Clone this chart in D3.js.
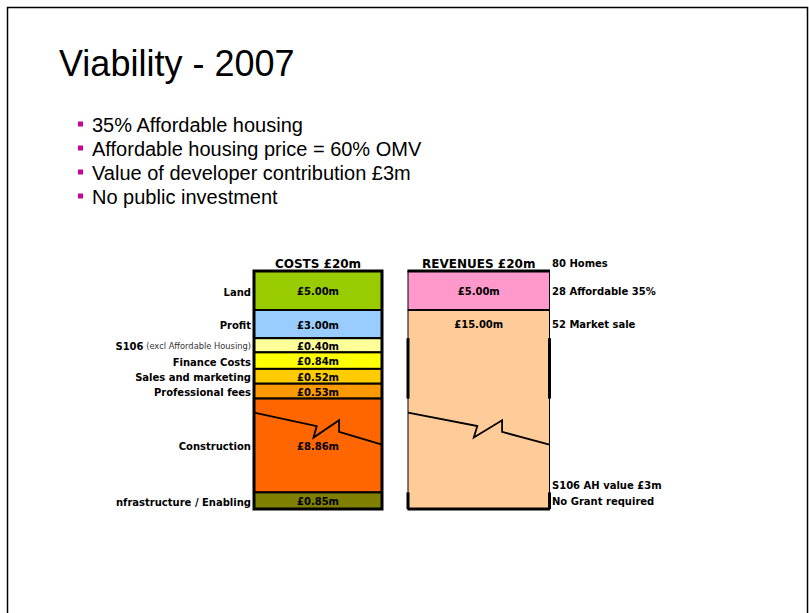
<!DOCTYPE html>
<html>
<head>
<meta charset="utf-8">
<script src="https://cdnjs.cloudflare.com/ajax/libs/d3/7.8.5/d3.min.js"></script>
<style>
    body { margin: 0; background: #fff; }
    svg { display: block; }
</style>
</head>
<body>
<div id="slide"></div>
<script>
const titleText = 'Viability - 2007';
const bullets = [
    '35% Affordable housing',
    'Affordable housing price = 60% OMV',
    'Value of developer contribution £3m',
    'No public investment'
];

const costLabels = ['Land', 'Profit', 'S106', 'Finance Costs', 'Sales and marketing', 'Professional fees', 'Construction', 'nfrastructure / Enabling'];
const costSubLabels = ['', '', '(excl Affordable Housing)', '', '', '', '', ''];
const costValues = [5.00, 3.00, 0.40, 0.84, 0.52, 0.53, 8.86, 0.85];

const revenueLabels = ['Affordable', 'Market sale'];
const revenueValues = [5.00, 15.00];
const revenueNotes = ['28 Affordable 35%', '52 Market sale'];
const homesNote = '80 Homes';
const bottomNotes = ['S106 AH value £3m', 'No Grant required'];

window.addEventListener('DOMContentLoaded', () => {

    const width = 809;
    const height = 613;

    const costColors = ['#99CC00', '#99CCFF', '#FFFF99', '#FFFF00', '#FFCC00', '#FF9900', '#FF6600', '#808000'];
    const revenueColors = ['#FF99CC', '#FFCC99'];

    const colTop = 271;
    const colBottom = 509;
    const costCol = { x0: 254, x1: 382 };
    const revCol = { x0: 408, x1: 549.5 };
    const noteX = 552;

    const fmt = d3.format('.2f');
    const label = 'DejaVu Sans, Verdana, sans-serif';

    const svg = d3.select('#slide')
        .append('svg')
        .attr('width', width)
        .attr('height', height);

    svg.append('rect')
        .attr('width', width)
        .attr('height', height)
        .attr('fill', '#fff');

    // slide frame
    svg.append('path')
        .attr('d', `M7.5,${height + 5}V7.5H807.5V${height + 5}`)
        .attr('fill', 'none')
        .attr('stroke', '#000')
        .attr('stroke-width', 1.5);

    svg.append('text')
        .attr('x', 59)
        .attr('y', 76)
        .attr('font-family', 'Liberation Sans, Arial, sans-serif')
        .attr('font-size', 36)
        .attr('fill', '#000')
        .text(titleText);

    const bulletG = svg.append('g');
    bullets.forEach((b, i) => {
        const by = 131.5 + i * 24;
        bulletG.append('rect')
            .attr('x', 78)
            .attr('y', by - 10)
            .attr('width', 5)
            .attr('height', 5)
            .attr('fill', '#CC0099');
        bulletG.append('text')
            .attr('x', 92)
            .attr('y', by)
            .attr('font-family', 'Liberation Sans, Arial, sans-serif')
            .attr('font-size', 20)
            .attr('fill', '#000')
            .text(b);
    });

    // segment heights: small items get a readable minimum, big items are broken and fill the rest
    const hScale = d3.scaleLinear()
        .domain([0, 5])
        .range([12, 39]);

    function stack(values) {
        const maxV = hScale.domain()[1];
        const fixed = d3.sum(values.filter(v => v <= maxV), v => hScale(v));
        const brokenH = (colBottom - colTop) - fixed;
        let y = colTop;
        return values.map((v, i) => {
            const h = v > maxV ? brokenH : hScale(v);
            const seg = { i: i, value: v, y0: y, y1: y + h, broken: v > maxV };
            y += h;
            return seg;
        });
    }

    const costSegs = stack(costValues);
    const revSegs = stack(revenueValues);

    const breakTop = costSegs.find(s => s.broken).y0 + 14;
    const breakShape = [[0, 0], [0.49, 13.5], [0.465, 25], [0.665, 7.7], [0.665, 19.3], [1, 32]];
    const breakLine = d3.line();

    function drawBreak(col) {
        const pts = breakShape.map(p => [col.x0 + p[0] * (col.x1 - col.x0), breakTop + p[1]]);
        svg.append('path')
            .attr('d', breakLine(pts))
            .attr('fill', 'none')
            .attr('stroke', '#000')
            .attr('stroke-width', 1.8);
    }

    // revenue labels sit in the first row of a broken block, otherwise centred
    function revLabelY(d) {
        return d.broken ? d.y0 + 14.5 : (d.y0 + d.y1) / 2 + 1;
    }

    // costs column
    const costG = svg.append('g');
    costG.selectAll('rect')
        .data(costSegs)
        .enter()
        .append('rect')
        .attr('x', costCol.x0)
        .attr('y', d => d.y0)
        .attr('width', costCol.x1 - costCol.x0)
        .attr('height', d => d.y1 - d.y0)
        .attr('fill', d => costColors[d.i])
        .attr('stroke', '#000')
        .attr('stroke-width', 2);

    costG.append('rect')
        .attr('x', costCol.x0)
        .attr('y', colTop)
        .attr('width', costCol.x1 - costCol.x0)
        .attr('height', colBottom - colTop)
        .attr('fill', 'none')
        .attr('stroke', '#000')
        .attr('stroke-width', 3);

    drawBreak(costCol);

    costG.selectAll('.val')
        .data(costSegs)
        .enter()
        .append('text')
        .attr('class', 'val')
        .attr('x', (costCol.x0 + costCol.x1) / 2)
        .attr('y', d => (d.y0 + d.y1) / 2 + 1)
        .attr('text-anchor', 'middle')
        .attr('dominant-baseline', 'central')
        .attr('font-family', label)
        .attr('font-weight', 'bold')
        .attr('font-size', 10)
        .attr('fill', '#000')
        .text(d => '£' + fmt(d.value) + 'm');

    const catText = costG.selectAll('.cat')
        .data(costSegs)
        .enter()
        .append('text')
        .attr('class', 'cat')
        .attr('x', costCol.x0 - 3)
        .attr('y', d => (d.y0 + d.y1) / 2 + 1)
        .attr('text-anchor', 'end')
        .attr('dominant-baseline', 'central')
        .attr('font-family', label)
        .attr('font-weight', 'bold')
        .attr('font-size', 10)
        .attr('fill', '#000');
    catText.append('tspan')
        .text(d => costLabels[d.i]);
    catText.filter(d => costSubLabels[d.i] !== '')
        .append('tspan')
        .attr('font-weight', 'normal')
        .attr('font-size', 8.3)
        .attr('fill', '#333')
        .text(d => ' ' + costSubLabels[d.i]);

    // revenues column
    const revG = svg.append('g');
    revG.selectAll('rect')
        .data(revSegs)
        .enter()
        .append('rect')
        .attr('x', revCol.x0)
        .attr('y', d => d.y0)
        .attr('width', revCol.x1 - revCol.x0)
        .attr('height', d => d.y1 - d.y0)
        .attr('fill', d => revenueColors[d.i])
        .attr('stroke', '#000')
        .attr('stroke-width', 1);

    revG.append('line')
        .attr('x1', revCol.x0)
        .attr('x2', revCol.x1)
        .attr('y1', revSegs[0].y1)
        .attr('y2', revSegs[0].y1)
        .attr('stroke', '#000')
        .attr('stroke-width', 2);

    [colTop, colBottom].forEach(y => {
        revG.append('line')
            .attr('x1', revCol.x0 - 0.5)
            .attr('x2', revCol.x1 + 0.5)
            .attr('y1', y)
            .attr('y2', y)
            .attr('stroke', '#000')
            .attr('stroke-width', 3);
    });

    // heavier side edges where the cost rows sit behind
    const edgeSpans = [
        [costSegs[2].y0, costSegs[5].y1],
        [costSegs[7].y0, colBottom]
    ];
    edgeSpans.forEach(span => {
        [revCol.x0, revCol.x1].forEach(x => {
            revG.append('line')
                .attr('x1', x)
                .attr('x2', x)
                .attr('y1', span[0])
                .attr('y2', span[1])
                .attr('stroke', '#000')
                .attr('stroke-width', 3);
        });
    });

    drawBreak(revCol);

    revG.selectAll('.val')
        .data(revSegs)
        .enter()
        .append('text')
        .attr('class', 'val')
        .attr('x', (revCol.x0 + revCol.x1) / 2)
        .attr('y', revLabelY)
        .attr('text-anchor', 'middle')
        .attr('dominant-baseline', 'central')
        .attr('font-family', label)
        .attr('font-weight', 'bold')
        .attr('font-size', 10)
        .attr('fill', '#000')
        .text(d => '£' + fmt(d.value) + 'm');

    revG.selectAll('.note')
        .data(revSegs)
        .enter()
        .append('text')
        .attr('class', 'note')
        .attr('x', noteX)
        .attr('y', revLabelY)
        .attr('dominant-baseline', 'central')
        .attr('font-family', label)
        .attr('font-weight', 'bold')
        .attr('font-size', 10)
        .attr('fill', '#000')
        .text(d => revenueNotes[d.i]);

    const lastCost = costSegs[costSegs.length - 1];
    bottomNotes.forEach((t, i) => {
        svg.append('text')
            .attr('x', noteX)
            .attr('y', (lastCost.y0 + lastCost.y1) / 2 + 1 - (bottomNotes.length - 1 - i) * 16)
            .attr('dominant-baseline', 'central')
            .attr('font-family', label)
            .attr('font-weight', 'bold')
            .attr('font-size', 10)
            .attr('fill', '#000')
            .text(t);
    });

    // headers
    const costTotal = d3.sum(costValues);
    const revTotal = d3.sum(revenueValues);
    svg.append('text')
        .attr('x', (costCol.x0 + costCol.x1) / 2)
        .attr('y', colTop - 3)
        .attr('text-anchor', 'middle')
        .attr('font-family', label)
        .attr('font-weight', 'bold')
        .attr('font-size', 12)
        .text('COSTS £' + d3.format('.0f')(costTotal) + 'm');

    svg.append('text')
        .attr('x', (revCol.x0 + revCol.x1) / 2)
        .attr('y', colTop - 3)
        .attr('text-anchor', 'middle')
        .attr('font-family', label)
        .attr('font-weight', 'bold')
        .attr('font-size', 12)
        .text('REVENUES £' + d3.format('.0f')(revTotal) + 'm');

    svg.append('text')
        .attr('x', noteX)
        .attr('y', colTop - 4)
        .attr('font-family', label)
        .attr('font-weight', 'bold')
        .attr('font-size', 10)
        .text(homesNote);

});
</script>
</body>
</html>
